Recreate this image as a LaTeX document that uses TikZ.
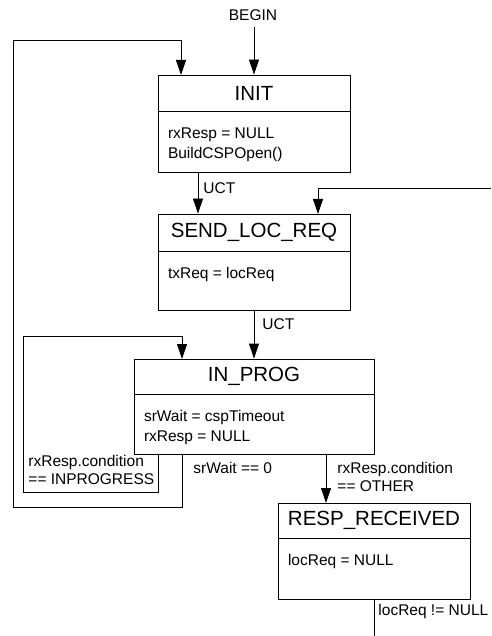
\documentclass[tikz,border=0pt]{standalone}
\usepackage{fontspec}
\setmainfont{Liberation Sans}
\usetikzlibrary{arrows.meta}
\begin{document}
\begin{tikzpicture}[x=1pt,y=-1pt,
  line width=0.9pt,
  titlebox/.style={draw,rectangle,inner sep=0,font=\fontsize{20.5}{24}\selectfont},
  bodybox/.style={draw,rectangle,inner sep=0},
  bodytxt/.style={anchor=north west,inner sep=0,align=left,font=\fontsize{15.5}{20}\selectfont},
  lbl/.style={inner sep=0,align=left,font=\fontsize{15.5}{18}\selectfont},
  arr/.style={-{Triangle[length=15pt,width=10pt]}}]
\useasboundingbox (0,0) rectangle (491,636);

% INIT
\node[titlebox,minimum width=192,minimum height=36] (initT) at (254,93) {INIT};
\node[bodybox,minimum width=192,minimum height=61,anchor=north] (initB) at (initT.south) {};
\node[bodytxt] (initX) at ([xshift=10,yshift=-15.5]initB.north west) {rxResp = NULL\\BuildCSPOpen()};

% SEND_LOC_REQ
\node[titlebox,minimum width=192,minimum height=37] (sendT) at (254,232.5) {SEND\_LOC\_REQ};
\node[bodybox,minimum width=192,minimum height=59,anchor=north] (sendB) at (sendT.south) {};
\node[bodytxt] (sendX) at ([xshift=10,yshift=-15.5]sendB.north west) {txReq = locReq};

% IN_PROG
\node[titlebox,minimum width=240,minimum height=35] (progT) at (254,376.5) {IN\_PROG};
\node[bodybox,minimum width=240,minimum height=60,anchor=north] (progB) at (progT.south) {};
\node[bodytxt] (progX) at ([xshift=10,yshift=-15.5]progB.north west) {srWait = cspTimeout\\rxResp = NULL};

% RESP_RECEIVED
\node[titlebox,minimum width=192,minimum height=35] (respT) at (374,520.5) {RESP\_RECEIVED};
\node[bodybox,minimum width=192,minimum height=61,anchor=north] (respB) at (respT.south) {};
\node[bodytxt] (respX) at ([xshift=10,yshift=-15.5]respB.north west) {locReq = NULL};

% BEGIN
\node[lbl] (begin) at (253,15) {BEGIN};
\coordinate (beginEnd) at (254,27);
\draw[arr] (beginEnd) -- (beginEnd |- initT.north);

% INIT -> SEND (UCT)
\draw[arr] (198,172) coordinate (u1) -- (u1 |- sendT.north);
\node[lbl,anchor=west] (uct1) at (203,188) {UCT};

% external incoming to SEND
\coordinate (extIn) at (491,188);
\draw[arr] (extIn) -- (318,188) -- (318,214);

% SEND -> IN_PROG (UCT)
\draw[arr] (sendB.south) -- (progT.north);
\node[lbl,anchor=west] (uct2) at (262,324) {UCT};

% IN_PROG -> INIT (srWait == 0)
\draw[arr] (182,454) -- (182,507) -- (13,507) -- (13,40) -- (181,40) -- (181,75);
\node[lbl,anchor=west] (sw0) at (193,468) {srWait == 0};

% IN_PROG self loop (INPROGRESS)
\draw[arr] (158,454) -- (158,492) -- (23,492) -- (23,336) -- (182,336) -- (182,359);
\node[lbl,anchor=north west] (inprog) at (28,455) {rxResp.condition\\== INPROGRESS};

% IN_PROG -> RESP (OTHER)
\draw[arr] (326,454) -- (326,503);
\node[lbl,anchor=north west] (other) at (337,461.5) {rxResp.condition\\== OTHER};

% RESP outgoing
\coordinate (extOut) at (374,636);
\draw (respB.south) -- (extOut);
\node[lbl,anchor=west] (lnn) at (378,611) {locReq != NULL};
\end{tikzpicture}
\end{document}
